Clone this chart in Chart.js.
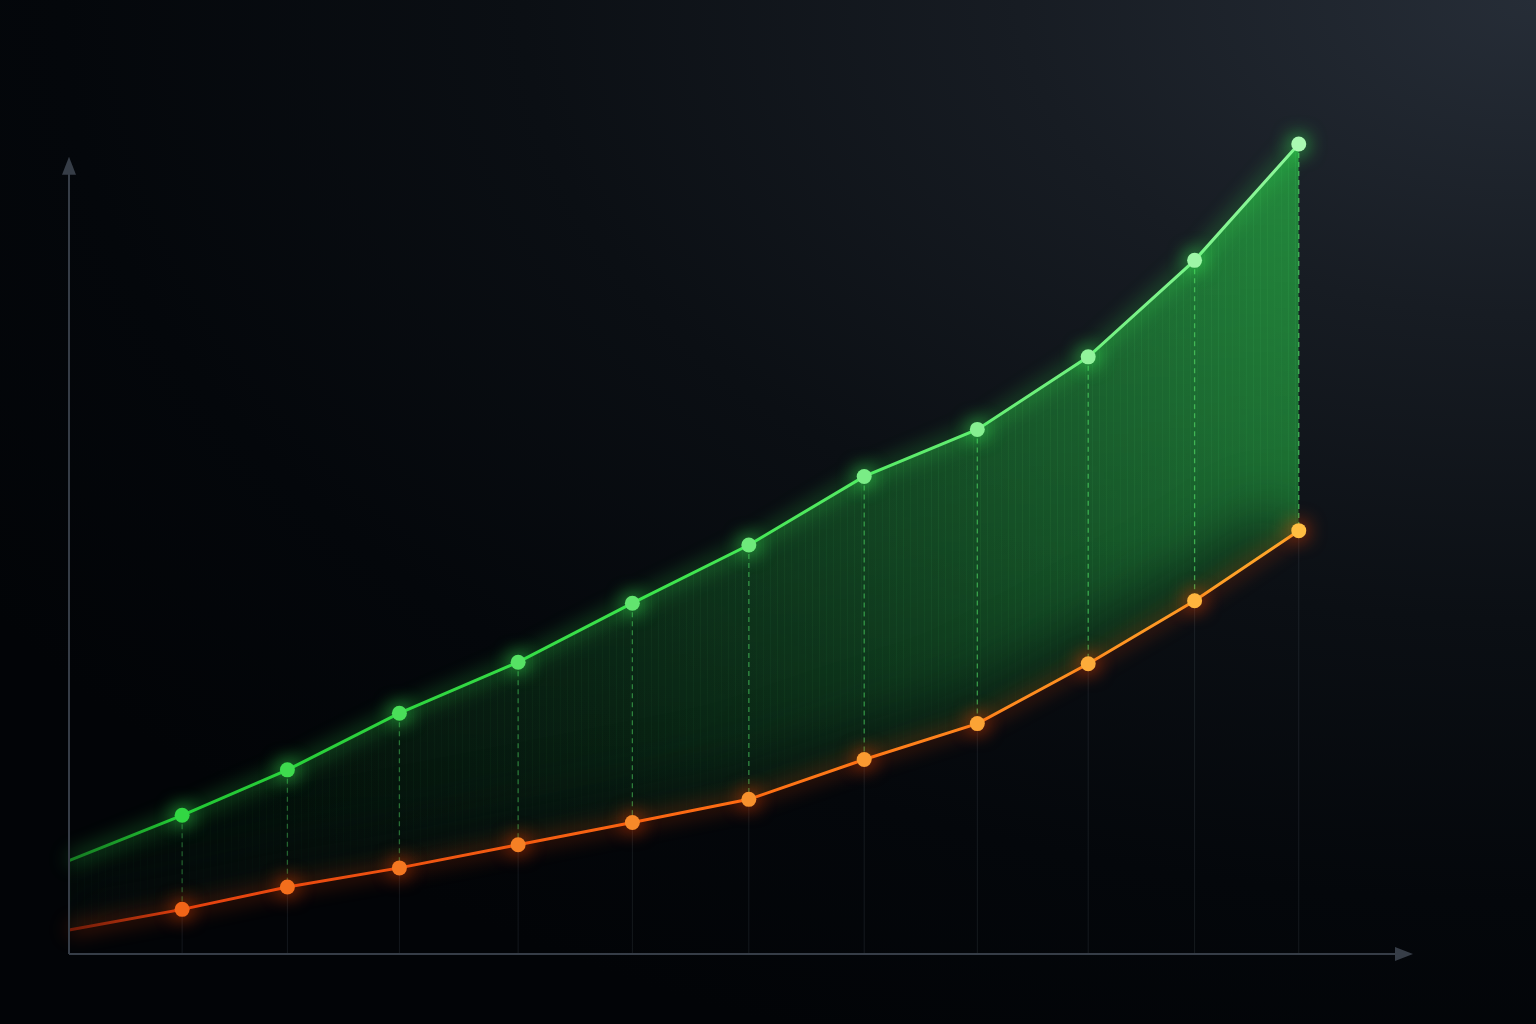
<!DOCTYPE html>
<html>
<head>
<meta charset="utf-8">
<script src="https://cdn.jsdelivr.net/npm/chart.js@4.4.1/dist/chart.umd.min.js"></script>
<style>
  html, body { margin: 0; padding: 0; }
  body {
    width: 1536px; height: 1024px; overflow: hidden;
    background: radial-gradient(ellipse 120% 110% at 100% 0%, #262d37 0%, #171c23 28%, #0b0f14 55%, #04070b 80%, #020407 100%);
  }
  canvas { display: block; }
</style>
</head>
<body>
<canvas id="chart-courbes" width="1536" height="1024"></canvas>
<script>
// positions on the horizontal axis (axis runs 0..12)
var xs = [0, 1.01, 1.95, 2.95, 4.01, 5.03, 6.07, 7.10, 8.11, 9.10, 10.05, 10.98];
// upper series (green) and lower series (orange), arrow of the y axis sits at 100
var vertes = [11.7, 17.4, 23.1, 30.2, 36.6, 44.0, 51.3, 59.9, 65.8, 74.9, 87.0, 101.6];
var oranges = [3.0, 5.6, 8.4, 10.8, 13.7, 16.5, 19.4, 24.4, 28.9, 36.4, 44.3, 53.1];

function points(vals) {
    return vals.map(function(v, i) { return { x: xs[i], y: v }; });
}

function mix(a, b, t) {
    var r = Math.round(a[0] + (b[0] - a[0]) * t);
    var g = Math.round(a[1] + (b[1] - a[1]) * t);
    var bl = Math.round(a[2] + (b[2] - a[2]) * t);
    return 'rgb(' + r + ',' + g + ',' + bl + ')';
}

function strokeGradient(chart, stops) {
    var area = chart.chartArea;
    if (!area) return stops[0][1];
    var xEnd = chart.scales.x.getPixelForValue(xs[xs.length - 1]);
    var g = chart.ctx.createLinearGradient(area.left, 0, xEnd, 0);
    stops.forEach(function(s) { g.addColorStop(s[0], s[1]); });
    return g;
}

// green fill texture: brighter to the right and toward the top, faint vertical streaks
var motif = null;
function fillPattern(chart) {
    if (motif) return motif;
    var w = chart.width, h = chart.height;
    var off = document.createElement('canvas');
    off.width = w; off.height = h;
    var c = off.getContext('2d');
    var gx = c.createLinearGradient(60, 0, 1300, 0);
    gx.addColorStop(0, 'rgba(25,120,45,0.12)');
    gx.addColorStop(0.45, 'rgba(28,140,52,0.36)');
    gx.addColorStop(1, 'rgba(38,175,68,0.75)');
    c.fillStyle = gx;
    c.fillRect(0, 0, w, h);
    for (var x = 70; x < 1300; x += 7) {
        var a = 0.05 + 0.06 * Math.abs(Math.sin(x * 0.37)) * (x / 1300);
        c.fillStyle = 'rgba(80,220,110,' + a + ')';
        c.fillRect(x, 0, 1, h);
    }
    c.globalCompositeOperation = 'destination-in';
    var gy = c.createLinearGradient(0, 140, 0, 950);
    gy.addColorStop(0, 'rgba(0,0,0,1)');
    gy.addColorStop(0.5, 'rgba(0,0,0,0.75)');
    gy.addColorStop(1, 'rgba(0,0,0,0.35)');
    c.fillStyle = gy;
    c.fillRect(0, 0, w, h);
    motif = chart.ctx.createPattern(off, 'no-repeat');
    return motif;
}

function tracer(ctx, pts) {
    ctx.moveTo(pts[0].x, pts[0].y);
    for (var i = 1; i < pts.length; i++) ctx.lineTo(pts[i].x, pts[i].y);
}

var glow = {
    id: 'glow',
    beforeDatasetDraw: function(chart, args) {
        var ctx = chart.ctx;
        ctx.save();
        ctx.shadowColor = args.index === 0 ? 'rgba(60,255,90,1)' : 'rgba(255,70,0,1)';
        ctx.shadowBlur = 20;
    },
    afterDatasetDraw: function(chart) {
        chart.ctx.restore();
    }
};

// shading above the orange line, dashed drop lines, axes with arrows
var guides = {
    id: 'guides',
    beforeDatasetsDraw: function(chart) {
        var ctx = chart.ctx;
        var hautes = chart.getDatasetMeta(0).data;
        var basses = chart.getDatasetMeta(1).data;
        var yAxe = chart.scales.y.getPixelForValue(0);

        // darken the band just above the orange line
        ctx.save();
        ctx.beginPath();
        tracer(ctx, hautes);
        for (var k = basses.length - 1; k >= 0; k--) ctx.lineTo(basses[k].x, basses[k].y);
        ctx.closePath();
        ctx.clip();
        ctx.filter = 'blur(28px)';
        ctx.strokeStyle = 'rgba(6,10,12,0.55)';
        ctx.lineWidth = 90;
        ctx.beginPath();
        tracer(ctx, basses.map(function(p) { return { x: p.x, y: p.y + 10 }; }));
        ctx.stroke();
        ctx.restore();

        ctx.save();
        for (var i = 1; i < hautes.length; i++) {
            var p = hautes[i], q = basses[i];
            var t = i / (hautes.length - 1);
            ctx.setLineDash([5, 4]);
            ctx.lineWidth = 1.3;
            ctx.strokeStyle = 'rgba(80,215,100,' + (0.35 + 0.4 * t) + ')';
            ctx.beginPath();
            ctx.moveTo(p.x, p.y);
            ctx.lineTo(q.x, q.y);
            ctx.stroke();
            ctx.setLineDash([]);
            ctx.lineWidth = 1;
            ctx.strokeStyle = 'rgba(120,130,140,0.16)';
            ctx.beginPath();
            ctx.moveTo(q.x, q.y);
            ctx.lineTo(q.x, yAxe);
            ctx.stroke();
        }
        ctx.restore();
    },
    afterDraw: function(chart) {
        var ctx = chart.ctx;
        var x0 = chart.scales.x.getPixelForValue(0);
        var x1 = chart.scales.x.getPixelForValue(12);
        var y0 = chart.scales.y.getPixelForValue(0);
        var y1 = chart.scales.y.getPixelForValue(100);
        ctx.save();
        ctx.strokeStyle = '#363d47';
        ctx.fillStyle = '#363d47';
        ctx.lineWidth = 2;
        ctx.beginPath();
        ctx.moveTo(x0, y0);
        ctx.lineTo(x0, y1 + 16);
        ctx.moveTo(x0, y0);
        ctx.lineTo(x1 - 16, y0);
        ctx.stroke();
        ctx.beginPath();
        ctx.moveTo(x0, y1);
        ctx.lineTo(x0 - 7, y1 + 18);
        ctx.lineTo(x0 + 7, y1 + 18);
        ctx.closePath();
        ctx.fill();
        ctx.beginPath();
        ctx.moveTo(x1, y0);
        ctx.lineTo(x1 - 18, y0 - 7);
        ctx.lineTo(x1 - 18, y0 + 7);
        ctx.closePath();
        ctx.fill();
        ctx.restore();
    }
};

document.addEventListener("DOMContentLoaded", function() {
    var ctx = document.getElementById("chart-courbes").getContext('2d');

    var n = xs.length;

    var data = {
        datasets: [{
            label: 'Haut',
            data: points(vertes),
            borderWidth: 3,
            borderColor: function(c) {
                return strokeGradient(c.chart, [[0, '#157a22'], [0.09, '#22c833'], [0.5, '#3fe64f'], [1, '#8ef79b']]);
            },
            pointRadius: vertes.map(function(v, i) { return i === 0 ? 0 : 7.5; }),
            pointBorderWidth: 0,
            pointBackgroundColor: function(c) {
                return mix([38, 212, 56], [170, 250, 178], c.dataIndex / (n - 1));
            },
            fill: '+1',
            backgroundColor: function(c) {
                if (!c.chart.chartArea) return 'rgba(30,150,50,0.2)';
                return fillPattern(c.chart);
            },
            tension: 0,
            clip: false
        }, {
            label: 'Bas',
            data: points(oranges),
            borderWidth: 3,
            borderColor: function(c) {
                return strokeGradient(c.chart, [[0, '#6e1a08'], [0.1, '#e5420f'], [0.55, '#ff6f14'], [1, '#ffa72a']]);
            },
            pointRadius: oranges.map(function(v, i) { return i === 0 ? 0 : 7.5; }),
            pointBorderWidth: 0,
            pointBackgroundColor: function(c) {
                return mix([240, 92, 20], [255, 190, 66], c.dataIndex / (n - 1));
            },
            fill: false,
            tension: 0,
            clip: false
        }]
    };

    var chartOptions = {
        responsive: false,
        animation: false,
        devicePixelRatio: 1,
        layout: { padding: { left: 69, right: 123, top: 77, bottom: 70 } },
        scales: {
            x: { type: 'linear', min: 0, max: 12, display: false },
            y: { min: 0, max: 110, display: false }
        },
        plugins: {
            legend: { display: false },
            tooltip: { enabled: false },
            filler: { drawTime: 'beforeDatasetsDraw' }
        }
    };

    new Chart(ctx, {
        type: 'line',
        data: data,
        options: chartOptions,
        plugins: [guides, glow]
    });
});
</script>
</body>
</html>
